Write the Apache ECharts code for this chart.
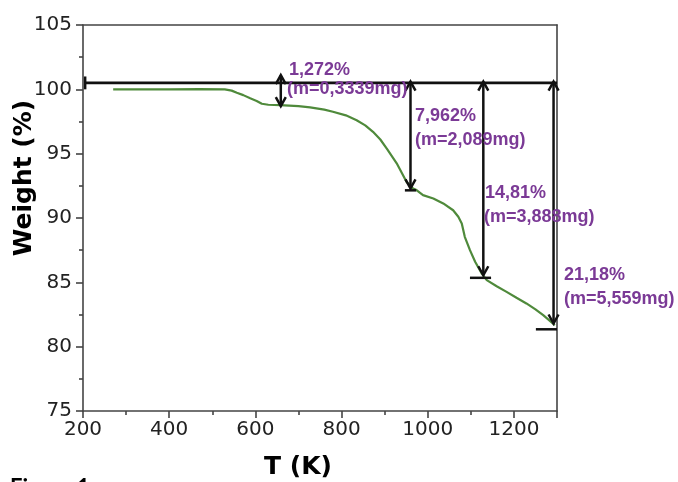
<!DOCTYPE html>
<html><head><meta charset="utf-8">
<script src="https://cdn.jsdelivr.net/npm/echarts@6/dist/echarts.min.js"></script>
<style>html,body{margin:0;padding:0;background:#fff}#c{width:678px;height:482px}</style>
</head><body><div id="c"></div>
<script>
// TGA curve
const tempK = [270, 400, 471, 529, 545, 557, 572, 588, 603, 615, 630, 657, 700, 727, 760, 780, 810, 835, 855, 873, 890, 905, 928, 951, 966, 974, 989, 1013, 1036, 1059, 1071, 1079, 1086, 1098, 1110, 1125, 1137, 1160, 1183, 1206, 1229, 1250, 1268, 1295];
const weightPct = [100.0, 100.0, 100.02, 100.0, 99.9, 99.73, 99.55, 99.3, 99.1, 98.88, 98.8, 98.78, 98.7, 98.6, 98.42, 98.26, 97.98, 97.6, 97.2, 96.7, 96.1, 95.4, 94.25, 92.8, 92.3, 92.17, 91.78, 91.52, 91.13, 90.6, 90.1, 89.58, 88.54, 87.5, 86.6, 85.7, 85.17, 84.7, 84.26, 83.8, 83.36, 82.9, 82.45, 81.67];
// Annotations
const arrowT = [659, 960, 1129, 1292];
const arrowTop = [101.1, 100.6, 100.6, 100.6];
const arrowBottom = [98.7, 92.3, 85.55, 81.8];
const capFrom = [947, 1098, 1251];
const capTo = [973, 1147, 1300];
const capLevel = [92.15, 85.35, 81.35];
const baselineT = [205, 1300];
const baselineLevel = 100.5;
const lossLabels = ['1,272%', '7,962%', '14,81%', '21,18%'];
const massLabels = ['(m=0,3339mg)', '(m=2,089mg)', '(m=3,888mg)', '(m=5,559mg)'];
// Axes
const xTicks = [200, 400, 600, 800, 1000, 1200];
const yTicks = [75, 80, 85, 90, 95, 100, 105];
const xTitle = 'T (K)';
const yTitle = 'Weight (%)';
const figLabel = 'Figure 1';

const curveData = tempK.map((t, i) => [t, weightPct[i]]);
const arrowData = arrowT.map((t, i) => [t, arrowTop[i], arrowBottom[i]]);
const segData = capFrom.map((f, i) => [f, capLevel[i], capTo[i], capLevel[i]]);
segData.push([baselineT[0], 101.0, baselineT[0], 100.0]);

const axisColor = '#444';
const purple = '#7b3a96';
const annFont = 'bold 18px "Liberation Sans", Arial, sans-serif';
const labelPos = [[289, 70, 287, 89], [415, 116, 415, 140], [485, 193, 484, 217], [564, 275, 564, 299]];
const graphics = [];
lossLabels.forEach((s, i) => {
  const p = labelPos[i];
  graphics.push({type: 'text', x: p[0], y: p[1], style: {text: s, fill: purple, font: annFont, align: 'left', verticalAlign: 'middle'}, z: 10});
  graphics.push({type: 'text', x: p[2], y: p[3], style: {text: massLabels[i], fill: purple, font: annFont, align: 'left', verticalAlign: 'middle'}, z: 10});
});
graphics.push({type: 'text', x: 24, y: 178, rotation: Math.PI / 2, style: {text: yTitle, fill: '#000', font: 'bold 25px "DejaVu Sans", sans-serif', align: 'center', verticalAlign: 'middle'}});
graphics.push({type: 'text', x: 298, y: 467, style: {text: xTitle, fill: '#000', font: 'bold 25px "DejaVu Sans", sans-serif', align: 'center', verticalAlign: 'middle'}});
graphics.push({type: 'text', x: 10, y: 477, style: {text: figLabel, fill: '#000', font: 'bold 22px Lato, "Open Sans", sans-serif', align: 'left', verticalAlign: 'top'}});

const chart = echarts.init(document.getElementById('c'), null, {renderer: 'canvas'});
chart.setOption({
  animation: false,
  backgroundColor: '#fff',
  grid: {left: 83, top: 25, width: 474, height: 386, containLabel: false},
  xAxis: [{
    type: 'value', min: 200, max: 1300, interval: 200,
    axisLine: {show: true, onZero: false, lineStyle: {color: axisColor, width: 1.6}},
    axisTick: {show: true, length: 7, inside: false, lineStyle: {color: axisColor, width: 1.6}},
    minorTick: {show: true, splitNumber: 2, length: 4, lineStyle: {color: axisColor, width: 1.6}},
    splitLine: {show: false},
    axisLabel: {margin: 9, fontSize: 20, color: '#222', fontFamily: '"DejaVu Sans", sans-serif',
      formatter: v => xTicks.includes(v) ? String(v) : ''}
  }, {
    type: 'value', position: 'top', min: 200, max: 1300,
    axisLine: {show: true, onZero: false, lineStyle: {color: axisColor, width: 1.6}},
    axisTick: {show: false}, axisLabel: {show: false}, splitLine: {show: false}
  }],
  yAxis: [{
    type: 'value', min: 75, max: 105, interval: 5,
    axisLine: {show: true, onZero: false, lineStyle: {color: axisColor, width: 1.6}},
    axisTick: {show: true, length: 7, lineStyle: {color: axisColor, width: 1.6}},
    minorTick: {show: true, splitNumber: 2, length: 4, lineStyle: {color: axisColor, width: 1.6}},
    splitLine: {show: false},
    axisLabel: {margin: 11, fontSize: 20, color: '#222', fontFamily: '"DejaVu Sans", sans-serif',
      formatter: v => yTicks.includes(v) ? String(v) : ''}
  }, {
    type: 'value', position: 'right', min: 75, max: 105,
    axisLine: {show: true, onZero: false, lineStyle: {color: axisColor, width: 1.6}},
    axisTick: {show: false}, axisLabel: {show: false}, splitLine: {show: false}
  }],
  graphic: graphics,
  series: [
    {type: 'line', data: curveData, symbol: 'none', lineStyle: {color: '#4f8a3b', width: 2.2}, z: 2},
    {type: 'line', data: baselineT.map(t => [t, baselineLevel]), symbol: 'none', lineStyle: {color: '#111', width: 2.6}, z: 4},
    {type: 'custom', clip: false, z: 5, data: segData,
      renderItem: (params, api) => {
        const a = api.coord([api.value(0), api.value(1)]);
        const b = api.coord([api.value(2), api.value(3)]);
        return {type: 'line', shape: {x1: a[0], y1: a[1], x2: b[0], y2: b[1]}, style: {stroke: '#111', lineWidth: 2.5}};
      }},
    {type: 'custom', clip: false, z: 5, data: arrowData,
      renderItem: (params, api) => {
        const t = api.coord([api.value(0), api.value(1)]);
        const b = api.coord([api.value(0), api.value(2)]);
        const hw = 5, hl = 9, st = {stroke: '#111', lineWidth: 2.5, fill: null};
        return {type: 'group', children: [
          {type: 'line', shape: {x1: t[0], y1: t[1], x2: b[0], y2: b[1]}, style: st},
          {type: 'polyline', shape: {points: [[t[0] - hw, t[1] + hl], [t[0], t[1]], [t[0] + hw, t[1] + hl]]}, style: st},
          {type: 'polyline', shape: {points: [[b[0] - hw, b[1] - hl], [b[0], b[1]], [b[0] + hw, b[1] - hl]]}, style: st}
        ]};
      }}
  ]
});
</script></body></html>
